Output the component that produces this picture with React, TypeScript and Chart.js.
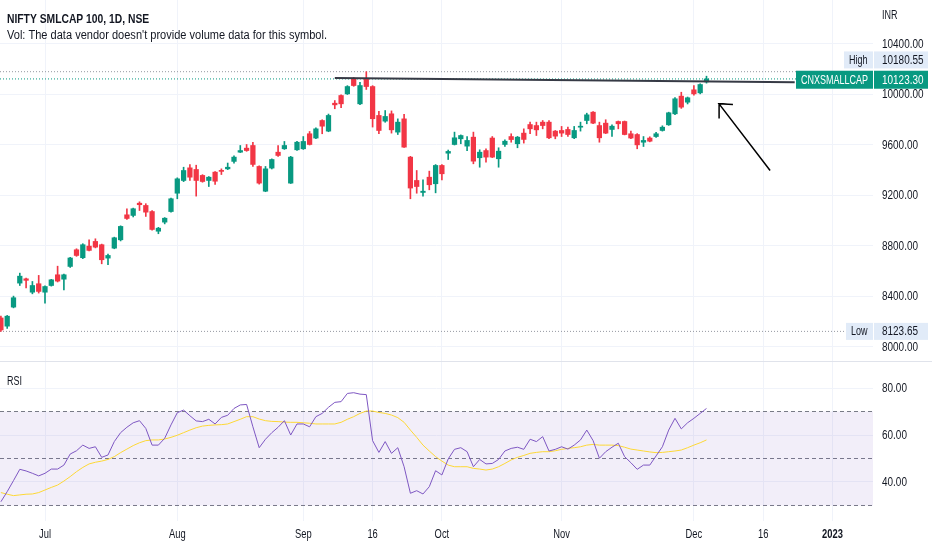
import React, { useEffect, useRef } from 'react';
import { Chart, registerables } from 'chart.js';

Chart.register(...registerables);

const FONT = "'Liberation Sans', Arial, sans-serif";
const TEXT = '#131722';
const GRID = '#f0f3fa';
const UP = '#089981';
const DOWN = '#F23645';

// bar index 0 = 1 Jul 2022; first visible bar is 7 sessions earlier
const FIRST_BAR = -7;

const opens = [
  8230, 8165, 8316, 8506, 8540, 8434, 8501,
  8434, 8487, 8572, 8537, 8638, 8770, 8707, 8799, 8836, 8810, 8704, 8783, 8849, 9047, 9042, 9139, 9121, 9073, 8917, 8989, 9073,
  9218, 9319, 9419, 9406, 9359, 9319, 9385, 9398, 9411, 9470, 9543, 9575, 9596, 9430, 9234, 9417, 9543, 9570, 9298, 9562,
  9570, 9689, 9655, 9794, 9710, 9931, 9992, 10005, 10124, 9926, 10124, 10063, 9834, 9789, 9847, 9702, 9807, 9504, 9319, 9224, 9345, 9293,
  9438, 9535, 9604, 9649, 9591, 9662, 9499, 9556, 9655, 9491, 9604, 9667, 9610, 9694, 9762, 9754, 9781, 9781, 9710,
  9715, 9723, 9657, 9741, 9794, 9860, 9754, 9773, 9723, 9786, 9786, 9689, 9683, 9622, 9655, 9667, 9715, 9760,
  9847, 9987, 9939, 10037, 10013, 10100,
];
const highs = [
  8245, 8250, 8403, 8585, 8545, 8519, 8567,
  8485, 8536, 8640, 8578, 8710, 8778, 8818, 8849, 8857, 8815, 8735, 8870, 8960, 9095, 9100, 9150, 9135, 9080, 8948, 9025, 9180,
  9340, 9424, 9445, 9440, 9365, 9350, 9390, 9411, 9457, 9515, 9596, 9604, 9622, 9435, 9430, 9490, 9596, 9628, 9510, 9630,
  9667, 9707, 9735, 9800, 9845, 9952, 9998, 10070, 10135, 10097, 10180.55, 10070, 9866, 9873, 9870, 9807, 9842, 9510, 9398, 9324, 9393, 9445,
  9445, 9560, 9702, 9680, 9667, 9702, 9562, 9570, 9667, 9578, 9640, 9689, 9668, 9728, 9781, 9781, 9794, 9794, 9715,
  9747, 9742, 9747, 9781, 9852, 9865, 9781, 9800, 9760, 9790, 9790, 9710, 9690, 9667, 9665, 9700, 9752, 9860,
  9975, 10018, 9980, 10071, 10085, 10145,
];
const lows = [
  8123.65, 8147, 8310, 8487, 8467, 8421, 8427,
  8348, 8482, 8515, 8453, 8630, 8718, 8700, 8760, 8785, 8659, 8652, 8778, 8840, 9010, 9030, 9081, 9034, 8925, 8897, 8975, 9068,
  9174, 9310, 9320, 9195, 9305, 9271, 9287, 9366, 9405, 9457, 9540, 9550, 9430, 9290, 9230, 9410, 9510, 9565, 9295, 9558,
  9565, 9600, 9650, 9689, 9705, 9887, 9895, 10000, 10065, 9920, 10040, 9742, 9689, 9780, 9694, 9683, 9580, 9174, 9218, 9195, 9245, 9221,
  9324, 9485, 9600, 9610, 9556, 9451, 9424, 9464, 9500, 9424, 9588, 9622, 9578, 9615, 9689, 9675, 9728, 9650, 9649,
  9667, 9667, 9650, 9710, 9768, 9768, 9622, 9690, 9667, 9728, 9680, 9650, 9570, 9588, 9625, 9660, 9710, 9755,
  9840, 9890, 9925, 9995, 10005, 10090,
];
const closes = [
  8135, 8244, 8390, 8561, 8528, 8487, 8440,
  8479, 8532, 8522, 8572, 8705, 8725, 8810, 8765, 8791, 8691, 8725, 8865, 8955, 9018, 9095, 9127, 9068, 8931, 8941, 9020, 9174,
  9332, 9398, 9345, 9319, 9311, 9345, 9313, 9391, 9424, 9504, 9556, 9556, 9446, 9298, 9411, 9485, 9517, 9596, 9504, 9622,
  9628, 9604, 9728, 9749, 9834, 9918, 9926, 10063, 10071, 10071, 10063, 9808, 9715, 9826, 9720, 9781, 9583, 9259, 9271, 9234, 9285, 9438,
  9372, 9549, 9657, 9675, 9636, 9472, 9543, 9504, 9504, 9551, 9630, 9643, 9662, 9644, 9728, 9720, 9754, 9657, 9670,
  9694, 9683, 9715, 9749, 9839, 9773, 9657, 9694, 9749, 9768, 9683, 9655, 9601, 9636, 9630, 9689, 9741, 9855,
  9966, 9900, 9974, 10005, 10079, 10123.3,
];

const rsiValues = [
  31.6, 35.9, 40.6, 45.4, 44.7, 43.7, 42.6,
  43.7, 45.5, 45.5, 47.2, 51.9, 53.3, 55.7, 54.3, 55.0, 50.5, 51.5, 57.2, 61.0, 63.3, 65.2, 66.1, 62.8, 55.7, 55.7, 58.6, 64.3,
  69.5, 70.6, 68.2, 66.0, 65.7, 66.7, 64.7, 67.5, 68.4, 71.3, 72.8, 73.0, 63.5, 54.6, 58.2, 61.0, 63.3, 66.1, 60.0, 64.7,
  64.7, 63.5, 67.8, 69.2, 71.8, 73.9, 74.2, 77.7, 78.0, 77.4, 77.2, 57.6, 52.6, 57.2, 52.2, 54.6, 46.5, 35.2, 36.3, 34.9, 38.0, 44.8,
  43.0, 49.8, 53.9, 54.6, 52.9, 46.5, 49.6, 47.7, 47.9, 49.6, 53.2, 54.3, 54.8, 53.9, 58.2, 57.2, 59.3, 53.2, 53.9,
  55.0, 54.0, 55.7, 57.9, 62.1, 57.6, 50.1, 52.9, 54.8, 56.5, 50.8, 48.2, 45.4, 47.2, 47.2, 51.1, 55.0, 62.1,
  67.1, 62.6, 65.2, 67.1, 69.2, 71.3,
];
const rsiMaValues = [
  35.5, 34.8, 34.2, 34.5, 34.8, 34.9, 35.5,
  36.6, 37.7, 38.7, 40.4, 42.3, 44.4, 46.2, 47.7, 48.4, 48.9, 49.6, 50.8, 52.5, 54.0, 55.5, 56.7, 57.6, 57.9, 57.9, 58.3, 59.0,
  59.9, 61.0, 62.1, 63.1, 63.8, 64.1, 64.3, 64.4, 64.7, 65.7, 66.7, 67.8, 67.8, 66.8, 66.1, 65.8, 65.7, 65.5, 65.4, 65.4,
  65.2, 65.0, 64.7, 64.7, 64.7, 64.7, 65.4, 66.7, 67.8, 69.2, 70.2, 70.2, 69.6, 69.2, 68.5, 67.4, 65.4, 62.1, 59.0, 55.7, 53.2, 50.8,
  48.9, 47.2, 46.5, 46.5, 46.5, 45.8, 45.5, 45.1, 45.5, 46.5, 47.9, 49.4, 50.5, 51.3, 52.2, 52.6, 52.9, 52.9, 53.3,
  53.9, 54.3, 54.6, 55.0, 55.7, 56.0, 55.7, 55.7, 55.7, 55.5, 54.8, 54.0, 53.6, 53.2, 52.8, 52.5, 52.6, 52.9,
  53.2, 53.6, 54.6, 55.7, 56.7, 57.9,
];

const timeTickBars = [0, 21, 41, 52, 63, 82, 103, 114, 125];
const timeTickLabels = ['Jul', 'Aug', 'Sep', '16', 'Oct', 'Nov', 'Dec', '16', '2023'];
const priceTicks = [8000, 8400, 8800, 9200, 9600, 10000, 10400];
const rsiTicks = [40, 60, 80];
const rsiLevels = [70, 50, 30];

const HIGH_VALUE = 10180.55;
const LOW_VALUE = 8123.65;
const LAST_VALUE = 10123.3;
const SYMBOL = 'CNXSMALLCAP';

// user drawings, in (bar index, price) units
const trendLine = [
  { x: 46, y: 10131 },
  { x: 119, y: 10097 },
];
const arrowPath = [
  { x: 115.1, y: 9398 },
  { x: 107.0, y: 9926 },
  { x: 109.2, y: 9921 },
  { x: 107.0, y: 9926 },
  { x: 107.0, y: 9810 },
];

const X_MIN = -7.143;
const X_MAX = 131.43;
const PRICE_MIN = 7889;
const PRICE_MAX = 10748.5;
const RSI_MIN = 23.4;
const RSI_MAX = 91.5;
const AXIS_W = 59;

// horizontal condensing of the fallback sans font, to match the narrow UI face
const SX_NUM = 0.83;
const SX_CAPS = 0.75;
const SX_TEXT = 0.92;
const SX_TITLE = 0.86;
const SX_TIME = 0.78;

const barX = (k: number) => k + FIRST_BAR;
const candleColors = opens.map((o, k) => (closes[k] >= o ? UP : DOWN));

function hLine(v: number) {
  return [
    { x: X_MIN, y: v },
    { x: X_MAX, y: v },
  ];
}

function drawText(ctx: CanvasRenderingContext2D, text: string, x: number, y: number, sx: number, align: CanvasTextAlign, baseline: CanvasTextBaseline) {
  ctx.save();
  ctx.translate(x, y);
  ctx.scale(sx, 1);
  ctx.textAlign = align;
  ctx.textBaseline = baseline;
  ctx.fillText(text, 0, 0);
  ctx.restore();
}

function xAxis(withLabels: boolean) {
  return {
    type: 'linear' as const,
    min: X_MIN,
    max: X_MAX,
    offset: false,
    afterBuildTicks: (s: any) => {
      s.ticks = timeTickBars.map((v) => ({ value: v }));
    },
    ticks: { display: false },
    grid: { color: GRID, drawTicks: false, offset: false },
    border: { display: false },
    afterFit: (s: any) => {
      s.height = withLabels ? 29 : 0;
      s.paddingLeft = 0;
      s.paddingRight = 0;
    },
  };
}

function yAxis(min: number, max: number, ticks: number[]) {
  return {
    type: 'linear' as const,
    position: 'right' as const,
    min,
    max,
    afterBuildTicks: (s: any) => {
      s.ticks = ticks.map((v) => ({ value: v }));
    },
    ticks: { display: false },
    grid: { color: GRID, drawTicks: false },
    border: { display: false },
    afterFit: (s: any) => {
      s.width = AXIS_W;
      s.paddingTop = 0;
      s.paddingBottom = 0;
    },
  };
}

function drawYLabels(chart: any) {
  const ctx: CanvasRenderingContext2D = chart.ctx;
  const y = chart.scales.y;
  ctx.save();
  ctx.fillStyle = TEXT;
  ctx.font = `12px ${FONT}`;
  y.ticks.forEach((t: any) => {
    drawText(ctx, Number(t.value).toFixed(2), chart.chartArea.right + 9, y.getPixelForValue(t.value) + 0.5, SX_NUM, 'left', 'middle');
  });
  ctx.restore();
}

function pairLabel(ctx: CanvasRenderingContext2D, right: number, yc: number, h: number, left: string, value: string, bg: string, fg: string) {
  ctx.save();
  ctx.font = `12px ${FONT}`;
  const lw = Math.round(ctx.measureText(left).width * SX_CAPS + 10);
  ctx.fillStyle = bg;
  ctx.fillRect(right - lw, yc - h / 2, lw, h);
  ctx.fillRect(right + 1, yc - h / 2, 54, h);
  ctx.fillStyle = fg;
  drawText(ctx, left, right - lw + 5, yc + 0.5, SX_CAPS, 'left', 'middle');
  drawText(ctx, value, right + 9, yc + 0.5, SX_NUM, 'left', 'middle');
  ctx.restore();
}

const topTextPlugin = {
  id: 'topText',
  afterDraw(chart: any) {
    const ctx: CanvasRenderingContext2D = chart.ctx;
    const area = chart.chartArea;
    const y = chart.scales.y;
    drawYLabels(chart);
    ctx.save();
    ctx.fillStyle = TEXT;
    ctx.font = `bold 12px ${FONT}`;
    drawText(ctx, 'NIFTY SMLCAP 100, 1D, NSE', 7, 23, SX_TITLE, 'left', 'alphabetic');
    ctx.font = `12px ${FONT}`;
    drawText(ctx, "Vol: The data vendor doesn't provide volume data for this symbol.", 7, 39, SX_TEXT, 'left', 'alphabetic');
    drawText(ctx, 'INR', area.right + 9, 19, SX_CAPS, 'left', 'alphabetic');
    ctx.restore();

    const yLast = y.getPixelForValue(LAST_VALUE);
    const yHigh = Math.min(y.getPixelForValue(HIGH_VALUE), yLast - 19);
    pairLabel(ctx, area.right, yHigh, 17, 'High', HIGH_VALUE.toFixed(2), '#e1ebf8', TEXT);
    pairLabel(ctx, area.right, yLast + 0.8, 18, SYMBOL, LAST_VALUE.toFixed(2), UP, '#ffffff');
    pairLabel(ctx, area.right, y.getPixelForValue(LOW_VALUE), 17, 'Low', LOW_VALUE.toFixed(2), '#e1ebf8', TEXT);
  },
};

const bottomTextPlugin = {
  id: 'bottomText',
  afterDraw(chart: any) {
    const ctx: CanvasRenderingContext2D = chart.ctx;
    const area = chart.chartArea;
    const x = chart.scales.x;
    drawYLabels(chart);
    ctx.save();
    ctx.strokeStyle = '#e0e3eb';
    ctx.lineWidth = 1;
    ctx.beginPath();
    ctx.moveTo(0, 0.5);
    ctx.lineTo(chart.width, 0.5);
    ctx.stroke();
    ctx.fillStyle = TEXT;
    ctx.font = `12px ${FONT}`;
    drawText(ctx, 'RSI', 7, 24, SX_CAPS, 'left', 'alphabetic');
    x.ticks.forEach((t: any) => {
      const k = timeTickBars.indexOf(t.value);
      if (k < 0) return;
      const label = timeTickLabels[k];
      ctx.font = `${label === '2023' ? 'bold ' : ''}12px ${FONT}`;
      drawText(ctx, label, x.getPixelForValue(t.value), area.bottom + 14, SX_TIME, 'center', 'middle');
    });
    ctx.restore();
  },
};

function lineSet(data: any[], color: string, width: number, dash: number[], order = 0, extra: any = {}) {
  return {
    type: 'line' as const,
    data,
    borderColor: color,
    borderWidth: width,
    borderDash: dash,
    pointRadius: 0,
    tension: 0,
    fill: false,
    order,
    ...extra,
  };
}

export default function App() {
  const topRef = useRef<HTMLCanvasElement>(null);
  const botRef = useRef<HTMLCanvasElement>(null);

  useEffect(() => {
    const priceChart = new Chart(topRef.current as HTMLCanvasElement, {
      type: 'bar',
      data: {
        datasets: [
          lineSet(trendLine, '#363a45', 2, [], 0),
          lineSet(arrowPath, '#000000', 1.5, [], 0),
          lineSet(hLine(HIGH_VALUE), '#9598a1', 1, [1, 2], 3),
          lineSet(hLine(LAST_VALUE), UP, 1, [1, 2], 3),
          lineSet(hLine(LOW_VALUE), '#9598a1', 1, [1, 2], 3),
          {
            type: 'bar' as const,
            data: opens.map((o, k) => ({ x: barX(k), y: [o, closes[k]] })),
            backgroundColor: candleColors,
            borderWidth: 0,
            barThickness: 4.6,
            minBarLength: 1,
            grouped: false,
            order: 1,
          },
          {
            type: 'bar' as const,
            data: lows.map((l, k) => ({ x: barX(k), y: [l, highs[k]] })),
            backgroundColor: candleColors,
            borderWidth: 0,
            barThickness: 1,
            grouped: false,
            order: 2,
          },
        ] as any,
      },
      options: {
        animation: false,
        responsive: false,
        maintainAspectRatio: false,
        events: [],
        layout: { padding: 0 },
        plugins: { legend: { display: false }, tooltip: { enabled: false } },
        scales: {
          x: xAxis(false) as any,
          y: yAxis(PRICE_MIN, PRICE_MAX, priceTicks) as any,
        },
      },
      plugins: [topTextPlugin],
    });

    const rsiChart = new Chart(botRef.current as HTMLCanvasElement, {
      type: 'line',
      data: {
        datasets: [
          lineSet(rsiValues.map((v, k) => ({ x: barX(k), y: v })), '#7E57C2', 1, [], 0),
          lineSet(rsiMaValues.map((v, k) => ({ x: barX(k), y: v })), '#FDD835', 1, [], 1),
          lineSet(hLine(rsiLevels[0]), '#787b86', 1, [4, 3], 2, {
            fill: { value: rsiLevels[2] },
            backgroundColor: 'rgba(126, 87, 194, 0.1)',
          }),
          lineSet(hLine(rsiLevels[1]), '#787b86', 1, [4, 3], 2),
          lineSet(hLine(rsiLevels[2]), '#787b86', 1, [4, 3], 2),
        ] as any,
      },
      options: {
        animation: false,
        responsive: false,
        maintainAspectRatio: false,
        events: [],
        layout: { padding: 0 },
        plugins: { legend: { display: false }, tooltip: { enabled: false } },
        scales: {
          x: xAxis(true) as any,
          y: yAxis(RSI_MIN, RSI_MAX, rsiTicks) as any,
        },
      },
      plugins: [bottomTextPlugin],
    });

    return () => {
      priceChart.destroy();
      rsiChart.destroy();
    };
  }, []);

  return (
    <div style={{ position: 'absolute', left: 0, top: 0, width: 932, height: 550, background: '#ffffff', overflow: 'hidden' }}>
      <canvas ref={topRef} width={932} height={361} style={{ position: 'absolute', left: 0, top: 0, width: 932, height: 361 }} />
      <canvas ref={botRef} width={932} height={189} style={{ position: 'absolute', left: 0, top: 361, width: 932, height: 189 }} />
    </div>
  );
}
